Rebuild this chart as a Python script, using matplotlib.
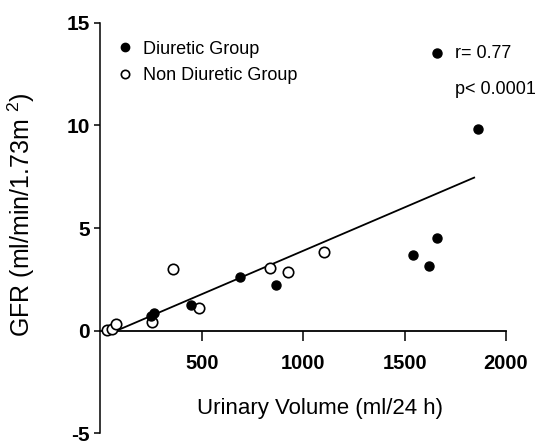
import matplotlib
matplotlib.use('Agg')
import matplotlib.pyplot as plt
from matplotlib.lines import Line2D

plt.rcParams['font.family'] = ['Liberation Sans', 'DejaVu Sans']
plt.rcParams['axes.unicode_minus'] = False
plt.rcParams['mathtext.fontset'] = 'custom'
plt.rcParams['mathtext.rm'] = 'Liberation Sans'

# Diuretic group (filled circles)
diuretic_x = [250, 265, 446, 689, 866, 1543, 1621, 1661, 1658, 1863]
diuretic_y = [0.7, 0.85, 1.25, 2.6, 2.23, 3.69, 3.17, 4.5, 13.52, 9.81]

# Non diuretic group (open circles)
non_x = [32, 59, 76, 253, 357, 486, 836, 924, 1104]
non_y = [0.03, 0.07, 0.33, 0.44, 3.0, 1.09, 3.04, 2.85, 3.82]

# regression line end points
fit_x = [80, 1843]
fit_y = [0.0, 7.46]

x_ticks = [500, 1000, 1500, 2000]
y_ticks = [-5, 0, 5, 10, 15]


def main():
    fig = plt.figure(figsize=(5.39, 4.46), dpi=100)
    ax = fig.add_axes([0.1861, 0.0285, 0.7527, 0.9202])

    ax.plot(fit_x, fit_y, color='black', lw=1.3, zorder=2)
    ax.plot(non_x, non_y, 'o', ms=7.5, mfc='white', mec='black', mew=1.2,
            ls='none', zorder=3)
    ax.plot(diuretic_x, diuretic_y, 'o', ms=6.5, color='black',
            ls='none', zorder=4)

    ax.set_xlim(0, 2000)
    ax.set_ylim(-5, 15)

    for s in ['top', 'right']:
        ax.spines[s].set_visible(False)
    ax.spines['bottom'].set_position(('data', 0))
    ax.spines['left'].set_bounds(-5, 15)
    ax.spines['bottom'].set_bounds(0, 2000)
    ax.spines['left'].set_linewidth(1.1)
    ax.spines['bottom'].set_linewidth(1.3)

    ax.set_xticks(x_ticks)
    ax.set_yticks(y_ticks)
    ax.tick_params(axis='x', length=7, width=1.1, pad=10, labelsize=14.5)
    ax.tick_params(axis='y', length=4.5, width=1.1, pad=3, labelsize=15)
    for lab in ax.get_xticklabels() + ax.get_yticklabels():
        lab.set_fontweight('bold')

    ax.text(1083, -3.8, 'Urinary Volume (ml/24 h)', ha='center',
            va='center', fontsize=16)
    fig.text(0.039, 0.518, 'GFR (ml/min/1.73m $^{2}$)', rotation=90,
             ha='center', va='center', fontsize=18)

    ax.text(1750, 13.5, 'r= 0.77', ha='left', va='center', fontsize=13)
    ax.text(1750, 11.75, 'p< 0.0001', ha='left', va='center', fontsize=13)

    handles = [
        Line2D([], [], marker='o', ls='none', ms=6, color='black'),
        Line2D([], [], marker='o', ls='none', ms=6, mfc='white',
               mec='black', mew=1.2),
    ]
    ax.legend(handles, ['Diuretic Group', 'Non Diuretic Group'],
              loc='upper left', bbox_to_anchor=(0.043, 0.957), frameon=False,
              fontsize=13, handlelength=0.8, handletextpad=0.6,
              labelspacing=0.55, borderaxespad=0, borderpad=0)

    fig.savefig('out.png', dpi=100)


if __name__ == '__main__':
    main()
